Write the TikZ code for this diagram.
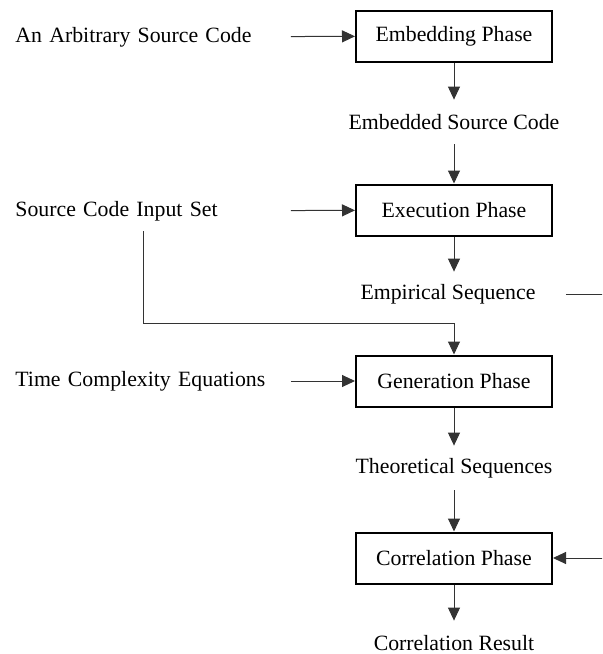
\documentclass[tikz,border=0pt]{standalone}
\usepackage{fontspec}
\setmainfont{Liberation Serif}
\usetikzlibrary{arrows.meta,positioning}
\definecolor{FlowLine}{HTML}{333333}

\begin{document}
\begin{tikzpicture}[
    x=0.5pt,y=-0.5pt,
    every node/.append style={font=\fontsize{10.9pt}{13pt}\selectfont},
    phase/.style={draw,line width=1pt,minimum width=98pt,minimum height=25.5pt,align=center},
    result/.style={inner xsep=2pt,minimum height=22pt},
    inlabel/.style={anchor=west,inner sep=0pt,text width=137.5pt,align=left},
    arr/.style={-{Triangle[length=6.5pt,width=6pt]},line width=0.5pt,FlowLine}
  ]
    \clip (0,0) rectangle (602,654);
    % phases
    \node[phase] (emb) at (454,36) {Embedding Phase};
    \node[phase] (exe) at (454,210) {Execution Phase};
    \node[phase] (gen) at (454,381) {Generation Phase};
    \node[phase] (cor) at (454,558) {Correlation Phase};
    % intermediate results
    \node[result] (embsrc) at (454,122) {Embedded Source Code};
    \node[result,inner xsep=15pt] (emp) at (448,294) {Empirical Sequence};
    \node[result] (theo) at (454,468) {Theoretical Sequences};
    \node[result] (res) at (454,643) {Correlation Result};
    % inputs
    \node[inlabel] (src) at (15,37) {An Arbitrary Source Code};
    \node[inlabel] (inset) at (15,211) {Source Code Input Set};
    \node[inlabel] (tce) at (15,381) {Time Complexity Equations};
    \coordinate (tap) at (143,231);
    \coordinate (bend) at (454,323);
    \coordinate (rturn) at (640,294);

    \draw[arr] (src) -- (emb);
    \draw[arr] (emb) -- (embsrc);
    \draw[arr] (embsrc) -- (exe);
    \draw[arr] (inset) -- (exe);
    \draw[arr] (exe) -- (exe |- emp.north);
    \draw[arr] (tap) |- (bend) -- (gen.north);
    \draw[arr] (tce) -- (gen);
    \draw[arr] (gen) -- (theo);
    \draw[arr] (theo) -- (cor);
    \draw[arr] (emp.east) -- (rturn) |- (cor.east);
    \draw[arr] (cor) -- (res);
\end{tikzpicture}
\end{document}
